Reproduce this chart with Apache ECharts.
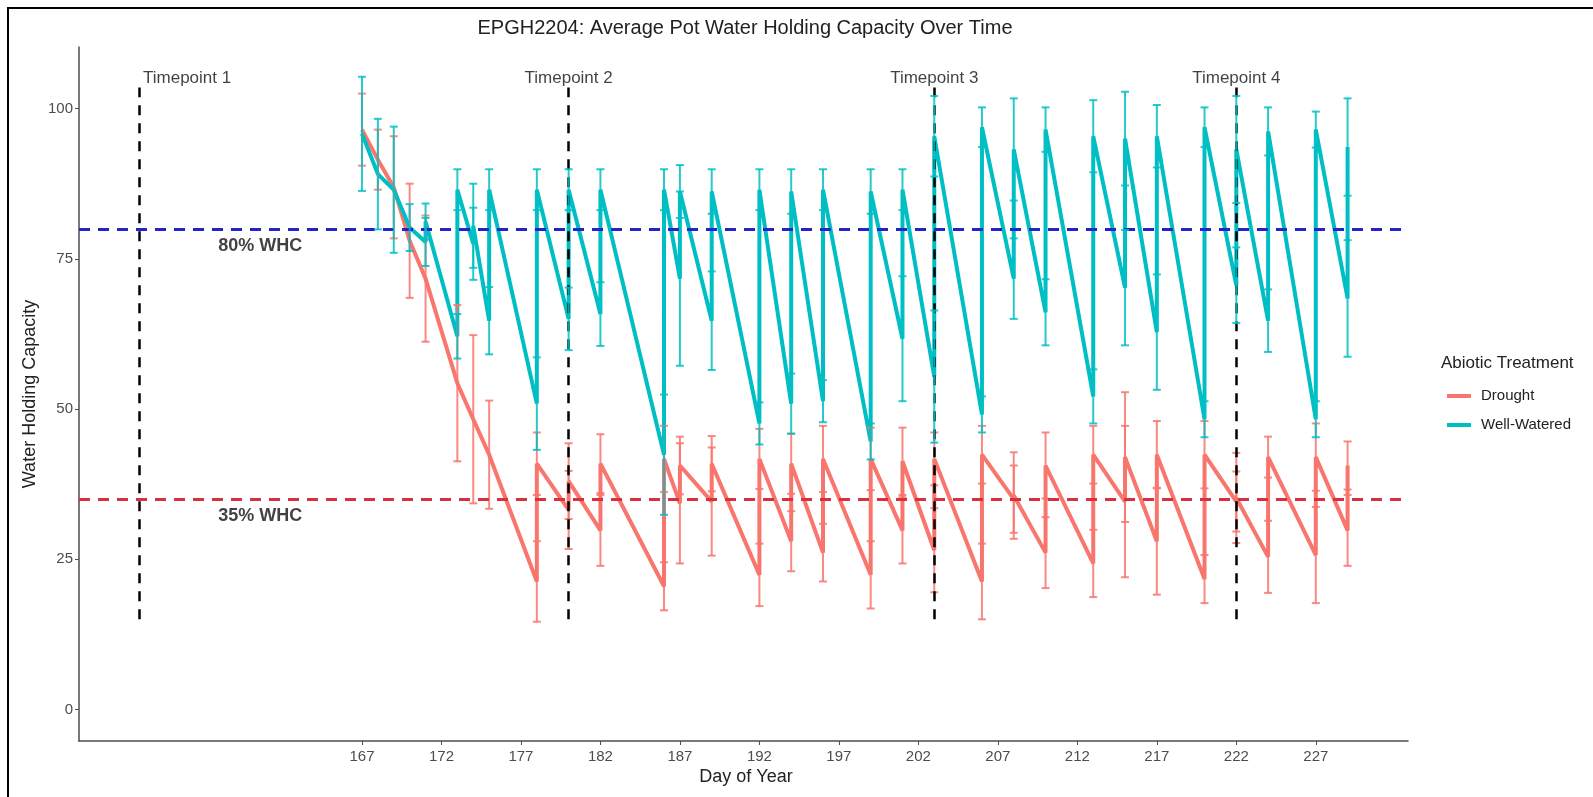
<!DOCTYPE html>
<html>
<head>
<meta charset="utf-8">
<title>EPGH2204 WHC</title>
<script src="https://cdn.jsdelivr.net/npm/echarts@6/dist/echarts.min.js"></script>
<style>
  html, body { margin: 0; padding: 0; background: #fff; }
  #chart { width: 1593px; height: 797px; }
</style>
</head>
<body>
<div id="chart"></div>
<script>
// days appear twice when pots were watered: value before, then value after
const wellDays = [167, 168, 169, 170, 171, 171, 173, 173, 174, 174, 175, 175, 178, 178, 180, 180, 182, 182,
  186, 186, 187, 187, 189, 189, 192, 192, 194, 194, 196, 196, 199, 199, 201, 201, 203, 203, 206, 206,
  208, 208, 210, 210, 213, 213, 215, 215, 217, 217, 220, 220, 222, 222, 224, 224, 227, 227, 229, 229]
const wellMean = [95.8, 89.1, 86.5, 80.2, 77.8, 81.2, 62.1, 86.5, 77.5, 80.5, 64.7, 86.5, 50.9, 86.5, 65, 86.5, 65.8, 86.5,
  42.4, 86.5, 71.7, 86.2, 64.7, 86.2, 47.6, 86.5, 50.9, 86.2, 51.3, 86.5, 44.6, 86.2, 61.7, 86.5, 55.4, 95.4, 49.1, 96.9,
  71.7, 93.2, 66.1, 96.5, 52.1, 95.4, 70.2, 95, 62.8, 95.4, 48.3, 96.9, 70.6, 93.2, 64.7, 96.2, 48.3, 96.5, 68.4, 93.6]
const wellErr = [9.5, 9.2, 10.5, 3.9, 4, 3, 3.7, 3.4, 6, 7, 5.6, 3.4, 7.7, 3.4, 5.2, 3.4, 5.3, 3.4,
  10, 3.4, 14.5, 4.4, 8.2, 3.7, 3.5, 3.4, 5, 3.7, 3.5, 3.4, 3, 3.7, 10.4, 3.4, 11, 6.7, 3, 3.3,
  6.7, 8.5, 5.5, 3.7, 4.5, 6, 9.6, 7.8, 9.6, 5.2, 3, 3.3, 6.3, 8.9, 5.2, 4, 3, 3, 9.7, 8.1]

const droughtDays = [167, 168, 169, 170, 171, 173, 174, 175, 178, 178, 180, 180, 182, 182,
  186, 186, 187, 187, 189, 189, 192, 192, 194, 194, 196, 196, 199, 199, 201, 201, 203, 203, 206, 206,
  208, 208, 210, 210, 213, 213, 215, 215, 217, 217, 220, 220, 222, 222, 224, 224, 227, 227, 229, 229]
const droughtMean = [96.5, 91.5, 86.9, 78, 71.7, 54.3, 48.3, 42.4, 21.3, 40.9, 33.2, 38, 29.8, 40.9,
  20.5, 41.7, 34.3, 40.6, 34.6, 40.9, 22.4, 41.7, 28, 40.9, 26.1, 41.7, 22.4, 41.7, 29.8, 41.3, 26.5, 41.7, 21.3, 42.4,
  35, 35.6, 26.1, 40.6, 24.3, 42.4, 34.6, 42, 28, 42.4, 21.7, 42.4, 34.6, 35.2, 25.4, 42, 25.7, 42, 29.8, 40.6]
const droughtErr = [6, 5, 8.5, 9.5, 10.5, 13, 14, 9, 6.7, 5.2, 6.5, 6.3, 5.9, 4.9,
  4, 5.5, 10, 4.8, 9, 4.6, 5.2, 5, 5, 5, 4.8, 5.5, 5.6, 5.2, 5.5, 5.6, 7, 4.4, 6.3, 4.8,
  5.6, 7.2, 5.9, 5.5, 5.6, 4.8, 12.6, 10.8, 8.9, 5.6, 4, 5.6, 5, 7.5, 6, 3.4, 8, 5.6, 5.9, 4]

const xTicks = [167, 172, 177, 182, 187, 192, 197, 202, 207, 212, 217, 222, 227]
const yTicks = [0, 25, 50, 75, 100]

const timepointDays = [153, 180, 203, 222]
const timepointLabelX = [156, 180, 203, 222]
const timepointLabels = ['Timepoint 1', 'Timepoint 2', 'Timepoint 3', 'Timepoint 4']

const whcLevels = [80, 35]
const whcLabels = ['80% WHC', '35% WHC']

const RED = '#F8766D'
const TEAL = '#00BFC4'
const FONT = '"Liberation Sans", Arial, sans-serif'

const pairs = (xs, ys) => xs.map((x, i) => [x, ys[i]])
const bars = (xs, ys, es) => xs.map((x, i) => [x, ys[i] - es[i], ys[i] + es[i]])

function errorBars(color) {
  return (params, api) => {
    const x = api.value(0)
    const lo = api.coord([x, api.value(1)])
    const hi = api.coord([x, api.value(2)])
    const w = 4
    const style = { stroke: color, lineWidth: 2, opacity: 0.85 }
    return {
      type: 'group',
      children: [
        { type: 'line', shape: { x1: lo[0], y1: lo[1], x2: hi[0], y2: hi[1] }, style },
        { type: 'line', shape: { x1: lo[0] - w, y1: lo[1], x2: lo[0] + w, y2: lo[1] }, style },
        { type: 'line', shape: { x1: hi[0] - w, y1: hi[1], x2: hi[0] + w, y2: hi[1] }, style },
      ],
    }
  }
}

const axisGrey = '#4d4d4d'

const chart = echarts.init(document.getElementById('chart'))
chart.setOption({
  animation: false,
  textStyle: { fontFamily: FONT },
  grid: { left: 79, right: 185, top: 47, bottom: 56 },
  xAxis: {
    type: 'value',
    min: 149.2,
    max: 232.8,
    splitLine: { show: false },
    axisLine: { onZero: false, lineStyle: { color: axisGrey, width: 1.5 } },
    axisTick: { customValues: xTicks, length: 4, lineStyle: { color: axisGrey } },
    axisLabel: { customValues: xTicks, color: axisGrey, fontSize: 15, margin: 8, fontFamily: FONT },
  },
  yAxis: {
    type: 'value',
    min: -5.25,
    max: 110.25,
    splitLine: { show: false },
    axisLine: { show: true, onZero: false, lineStyle: { color: axisGrey, width: 1.5 } },
    axisTick: { show: true, customValues: yTicks, length: 4, lineStyle: { color: axisGrey } },
    axisLabel: { customValues: yTicks, color: axisGrey, fontSize: 15, margin: 6, fontFamily: FONT },
  },
  legend: {
    data: ['Drought', 'Well-Watered'],
    orient: 'vertical',
    left: 1442,
    top: 382,
    icon: 'rect',
    itemWidth: 24,
    itemHeight: 4,
    itemGap: 11,
    selectedMode: false,
    textStyle: { fontSize: 15, color: '#222', lineHeight: 18, padding: [0, 0, 0, 5], fontFamily: FONT },
  },
  graphic: [
    { type: 'rect', shape: { x: 8, y: 8, width: 1600, height: 800 }, style: { fill: 'none', stroke: '#000', lineWidth: 2 }, silent: true },
    { type: 'text', x: 745, y: 28, style: { text: 'EPGH2204: Average Pot Water Holding Capacity Over Time', fontSize: 20, fill: '#222', align: 'center', verticalAlign: 'middle', fontFamily: FONT } },
    { type: 'text', x: 746, y: 777, style: { text: 'Day of Year', fontSize: 18, fill: '#222', align: 'center', verticalAlign: 'middle', fontFamily: FONT } },
    { type: 'text', x: 30, y: 394, rotation: Math.PI / 2, style: { text: 'Water Holding Capacity', fontSize: 18, fill: '#222', align: 'center', verticalAlign: 'middle', fontFamily: FONT } },
    { type: 'text', x: 1441, y: 363, style: { text: 'Abiotic Treatment', fontSize: 17, fill: '#222', align: 'left', verticalAlign: 'middle', fontFamily: FONT } },
  ],
  series: [
    {
      name: 'Drought',
      type: 'line',
      data: pairs(droughtDays, droughtMean),
      showSymbol: false,
      color: RED,
      lineStyle: { width: 4, color: RED },
      z: 2,
    },
    {
      name: 'Well-Watered',
      type: 'line',
      data: pairs(wellDays, wellMean),
      showSymbol: false,
      color: TEAL,
      lineStyle: { width: 4, color: TEAL },
      z: 3,
    },
    {
      name: 'droughtErr',
      type: 'custom',
      data: bars(droughtDays, droughtMean, droughtErr),
      encode: { x: 0, y: [1, 2] },
      renderItem: errorBars(RED),
      z: 4,
    },
    {
      name: 'wellErr',
      type: 'custom',
      data: bars(wellDays, wellMean, wellErr),
      encode: { x: 0, y: [1, 2] },
      renderItem: errorBars(TEAL),
      z: 5,
    },
    {
      name: 'annotations',
      type: 'scatter',
      symbolSize: 0,
      silent: true,
      z: 6,
      data: [
        ...timepointLabels.map((t, i) => ({
          value: [timepointLabelX[i], 105],
          name: t,
          label: { show: true, position: 'inside', formatter: '{b}', color: '#111', fontSize: 17, fontFamily: FONT },
        })),
        ...whcLabels.map((t, i) => ({
          value: [160.6, whcLevels[i] - 2.8],
          name: t,
          label: { show: true, position: 'inside', formatter: '{b}', color: '#111', fontSize: 18, fontWeight: 'bold', fontFamily: FONT },
        })),
      ],
      markLine: {
        silent: true,
        symbol: 'none',
        label: { show: false },
        data: [
          { yAxis: whcLevels[0], lineStyle: { color: '#2323c8', width: 3, type: [11, 8] } },
          { yAxis: whcLevels[1], lineStyle: { color: '#d9303f', width: 3, type: [11, 8] } },
          ...timepointDays.map((d) => [
            { coord: [d, 15], lineStyle: { color: '#000', width: 2.5, type: [10, 8] } },
            { coord: [d, 103.5] },
          ]),
        ],
      },
    },
  ],
})
</script>
</body>
</html>
